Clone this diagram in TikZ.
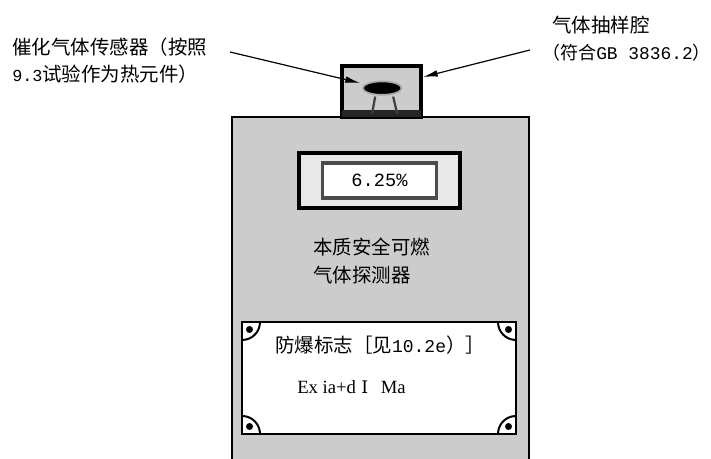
\documentclass[tikz,border=0pt]{standalone}
\usepackage{fontspec}
\setmainfont{Noto Sans CJK SC}
\setmonofont{Liberation Mono}
\newfontfamily\latinfont{Liberation Serif}
\newfontfamily\numeralfont{DejaVu Serif}
\usepackage{tikz}
\usetikzlibrary{shapes.geometric, positioning, calc, arrows.meta}
\colorlet{casegray}{black!20}
\colorlet{bezelgray}{black!9}
\newcommand{\halfwidth}[2][12.6pt]{{\ttfamily\fontsize{#1}{14pt}\selectfont #2}}
\newcommand{\platelatin}[1]{{\latinfont\fontsize{14pt}{14pt}\selectfont #1}}

\begin{document}
\begin{tikzpicture}[x=0.75pt, y=0.75pt, font=\fontsize{14.6pt}{21pt}\selectfont,
  box/.style={rectangle, draw, outer sep=0pt, inner sep=0pt, minimum width=#1},
  label/.style={anchor=west, align=left, inner sep=0pt},
  pointer/.style={-{Latex[length=11pt,width=5pt]}, line width=0.9pt},
  corner/.style={line width=1.5pt}]

\clip (0,0) rectangle (711,459);

% Housing

\node [box=222.75pt, minimum height=270pt, line width=2.2pt, fill=casegray, anchor=north] (body) at (380.5,342) {};
\node [box=59.25pt, minimum height=38.25pt, line width=2.8pt, fill=casegray, above=0pt of body.north, xshift=0.75pt] (cavity) {};
\node [box=120.75pt, minimum height=41.25pt, line width=2.8pt, fill=bezelgray, below=27pt of body.north, xshift=-0.75pt] (display) {};
\node [box=85.5pt, minimum height=26.25pt, line width=2.8pt, draw=black!70, fill=white] (readout) at (display.center) {\halfwidth[14pt]{6.25\%}};

\node [label, below=22pt of display.south west, xshift=10.5pt, anchor=north west] (devicename) {本质安全可燃\\气体探测器};

% Sensor

\fill [black!85] (cavity.south west) rectangle ($(cavity.south east)+(0,7)$);
\node [ellipse, fill=black, draw=black!35, line width=1.2pt, minimum width=29pt, minimum height=10pt, inner sep=0pt, below=11pt of cavity.north, xshift=0.5pt] (sensor) {};
\draw [line width=1.7pt, black!75] ($(sensor.south)+(-7,-1)$) -- ++(-3,-17);
\draw [line width=1.7pt, black!75] ($(sensor.south)+(11,-1)$) -- ++(4,-17);

% Nameplate

\node [box=205.5pt, minimum height=84pt, line width=1.9pt, fill=white, below=153.75pt of body.north, xshift=-1.125pt] (plate) {};
\node [label] (platetitle) at ($(plate.north west)+(33,-23)$) {防爆标志［见\halfwidth[13.5pt]{10.2e}）］};
\node [label, below=31.5pt of platetitle.west, xshift=16.5pt, anchor=west] (platecode) {\platelatin{Ex ia+d}\hspace{4pt}{\numeralfont\fontsize{13pt}{14pt}\selectfont Ⅰ}\hspace{9.5pt}\platelatin{Ma}};

\foreach \anchor/\sx/\sy in {north west/1/-1, north east/-1/-1, south west/1/1, south east/-1/1} {
  \draw [corner] ($(plate.\anchor)+(\sx*18,0)$) .. controls ($(plate.\anchor)+(\sx*18,\sy*10)$) and ($(plate.\anchor)+(\sx*10,\sy*18)$) .. ($(plate.\anchor)+(0,\sy*18)$);
  \fill ($(plate.\anchor)+(\sx*7.5,\sy*7.5)$) circle (3.5);
}

% Callouts

\node [label] (sensorlabel) at (12,412) {催化气体传感器（按照};
\node [label, below=20.25pt of sensorlabel.west, anchor=west] (sensorlabeltwo) {\halfwidth{9.3}试验作为热元件）};
\node [label] (cavitylabel) at (552,434) {气体抽样腔};
\node [label, below=21pt of cavitylabel.west, xshift=-7.5pt, anchor=west, font=\fontsize{13.5pt}{21pt}\selectfont] (cavitylabeltwo) {（符合\halfwidth[13.4pt]{GB 3836.2}）};

\coordinate (sensortail) at (230,407);
\coordinate (sensortip) at (360,376);
\coordinate (cavitytail) at (530,409);
\coordinate (cavitytip) at (423,382);
\draw [pointer] (sensortail) -- (sensortip);
\draw [pointer] (cavitytail) -- (cavitytip);

\end{tikzpicture}
\end{document}
